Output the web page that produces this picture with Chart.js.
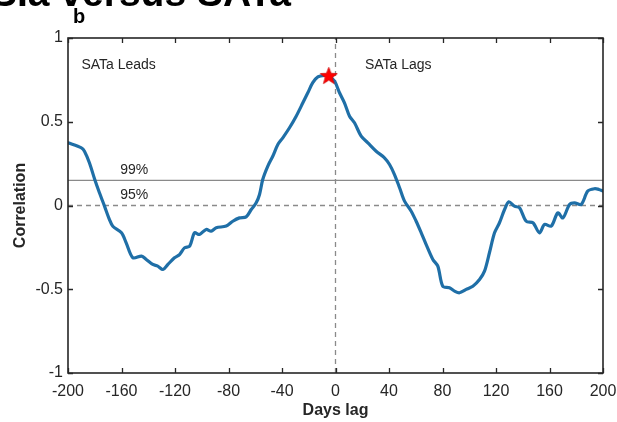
<!DOCTYPE html>
<html>
<head>
<meta charset="utf-8">
<script src="https://cdn.jsdelivr.net/npm/chart.js@4/dist/chart.umd.min.js"></script>
<style>
  html, body { margin: 0; padding: 0; background: #fff; }
  #wrap { width: 617px; height: 422px; position: relative; }
</style>
</head>
<body>
<div id="wrap"><canvas id="c" width="617" height="422"></canvas></div>
<script>
// ---- data ----
const lags = [-200, -190, -187.7, -184, -180, -176.5, -172.7, -169, -166.5, -160, -156.5, -151.5, -145, -141.5, -136.6, -132.9, -129,
  -125.3, -120.4, -116.6, -112.9, -109, -105.4, -101.7, -96.7, -93, -89.2, -81.7, -76.8, -71.8, -66.8, -63, -59.3, -56.8,
  -54.4, -50.6, -46.9, -43.1, -39.4, -34.4, -29.4, -24.4, -20.7, -17, -13.2, -8.2, -5, -0.7, 3, 6.7, 10.5, 14.2, 19.2, 24.2,
  30.4, 36.6, 40.4, 44.1, 47.9, 51.6, 56.6, 60.3, 64.1, 67.8, 72.8, 76.5, 80.2, 85.2, 89, 92.7, 97.7, 102.7, 107.7, 111.4,
  115.1, 118.9, 122.6, 126.4, 129.6, 133.8, 137.6, 142.6, 147.6, 152.5, 156.3, 161.3, 166.2, 170, 175, 178.7, 183.7, 188.6,
  193.6, 196.9, 200];
const corr = [0.374, 0.344, 0.324, 0.255, 0.155, 0.076, -0.004, -0.084, -0.124, -0.163, -0.223, -0.312, -0.302, -0.322, -0.352, -0.362, -0.382,
  -0.352, -0.312, -0.293, -0.253, -0.243, -0.163, -0.173, -0.143, -0.153, -0.133, -0.123, -0.094, -0.074, -0.068, -0.024, 0.016, 0.066,
  0.155, 0.235, 0.294, 0.364, 0.404, 0.464, 0.533, 0.613, 0.673, 0.733, 0.768, 0.776, 0.772, 0.742, 0.673, 0.613, 0.533, 0.494, 0.414, 0.374,
  0.324, 0.285, 0.245, 0.185, 0.106, 0.026, -0.034, -0.094, -0.163, -0.233, -0.322, -0.362, -0.482, -0.491, -0.511, -0.521, -0.501, -0.482, -0.442, -0.392,
  -0.282, -0.163, -0.103, -0.024, 0.022, -0.004, -0.014, -0.094, -0.103, -0.163, -0.113, -0.123, -0.044, -0.074, 0.006, 0.016, 0.006, 0.086,
  0.100, 0.096, 0.086];
const peakLag = [-5];
const peakCorr = [0.776];
const sig99 = 0.15;
const sig95 = 0;
const xTicks = [-200, -160, -120, -80, -40, 0, 40, 80, 120, 160, 200];
const yTicks = [-1, -0.5, 0, 0.5, 1];
const xRange = [-200, 200];
const yRange = [-1, 1];

// ---- filled star point style ----
function makeStar(size) {
  const cv = document.createElement('canvas');
  cv.width = size; cv.height = size;
  const g = cv.getContext('2d');
  const cx = size / 2, cy = size / 2 + 0.8, R = size / 2 - 0.5, r = R * 0.42;
  g.beginPath();
  for (let i = 0; i < 10; i++) {
    const ang = -Math.PI / 2 + i * Math.PI / 5;
    const rad = i % 2 === 0 ? R : r;
    const px = cx + rad * Math.cos(ang), py = cy + rad * Math.sin(ang);
    if (i === 0) g.moveTo(px, py); else g.lineTo(px, py);
  }
  g.closePath();
  g.fillStyle = '#ff0000';
  g.fill();
  g.strokeStyle = '#d00000';
  g.lineWidth = 0.8;
  g.stroke();
  return cv;
}
const starImg = makeStar(19);

const FONT = '"Liberation Sans", Arial, Helvetica, sans-serif';
const TXT = '#262626';

const decor = {
  id: 'decor',
  beforeDatasetsDraw(chart) {
    const ctx = chart.ctx;
    const xs = chart.scales.x, ys = chart.scales.y;
    ctx.save();
    ctx.fillStyle = TXT;
    ctx.font = '14px ' + FONT;
    ctx.textBaseline = 'middle';
    ctx.textAlign = 'left';
    ctx.fillText('SATa Leads', xs.getPixelForValue(-190), ys.getPixelForValue(0.84));
    ctx.fillText('SATa Lags', xs.getPixelForValue(22), ys.getPixelForValue(0.84));
    ctx.fillText('99%', xs.getPixelForValue(-161), ys.getPixelForValue(sig99 + 0.06));
    ctx.fillText('95%', xs.getPixelForValue(-161), ys.getPixelForValue(sig95 + 0.06));
    ctx.restore();
  },
  afterDraw(chart) {
    const ctx = chart.ctx;
    const a = chart.chartArea;
    const xs = chart.scales.x, ys = chart.scales.y;
    ctx.save();
    // frame
    ctx.strokeStyle = '#262626';
    ctx.lineWidth = 1.6;
    ctx.strokeRect(a.left, a.top, a.right - a.left, a.bottom - a.top);
    // inward ticks
    ctx.lineWidth = 1.3;
    const tl = 5;
    ctx.beginPath();
    xTicks.forEach(v => {
      const px = Math.round(xs.getPixelForValue(v)) + 0.5;
      ctx.moveTo(px, a.bottom); ctx.lineTo(px, a.bottom - tl);
      ctx.moveTo(px, a.top); ctx.lineTo(px, a.top + tl);
    });
    yTicks.forEach(v => {
      const py = Math.round(ys.getPixelForValue(v)) + 0.5;
      ctx.moveTo(a.left, py); ctx.lineTo(a.left + tl, py);
      ctx.moveTo(a.right, py); ctx.lineTo(a.right - tl, py);
    });
    ctx.stroke();
    // axis titles
    ctx.fillStyle = TXT;
    ctx.font = 'bold 16px ' + FONT;
    ctx.textAlign = 'center';
    ctx.textBaseline = 'middle';
    ctx.fillText('Days lag', (a.left + a.right) / 2, 411);
    ctx.save();
    ctx.translate(21, (a.top + a.bottom) / 2);
    ctx.rotate(-Math.PI / 2);
    ctx.fillText('Correlation', 0, 0);
    ctx.restore();
    // panel letter and cut-off heading
    ctx.fillStyle = '#000';
    ctx.textAlign = 'left';
    ctx.textBaseline = 'alphabetic';
    ctx.font = 'bold 20px ' + FONT;
    ctx.fillText('b', 73, 23);
    ctx.font = 'bold 39px ' + FONT;
    ctx.fillText('SIa versus SATa', -9, 6);
    ctx.restore();
  }
};

const pts = lags.map((x, i) => ({ x, y: corr[i] }));

new Chart(document.getElementById('c'), {
  type: 'line',
  data: {
    datasets: [
      {
        label: 'peak',
        data: peakLag.map((x, i) => ({ x, y: peakCorr[i] })),
        showLine: false,
        pointStyle: starImg,
        pointRadius: 9,
        borderColor: 'red',
        backgroundColor: 'red'
      },
      {
        label: 'correlation',
        data: pts,
        borderColor: '#1f6fa7',
        borderWidth: 3.2,
        pointRadius: 0,
        tension: 0.3,
        fill: false,
        borderJoinStyle: 'round',
        borderCapStyle: 'round'
      },
      {
        label: '99%',
        data: [{ x: xRange[0], y: sig99 }, { x: xRange[1], y: sig99 }],
        borderColor: '#8a8a8a',
        borderWidth: 1.3,
        pointRadius: 0
      },
      {
        label: '95%',
        data: [{ x: xRange[0], y: sig95 }, { x: xRange[1], y: sig95 }],
        borderColor: '#8a8a8a',
        borderWidth: 1.3,
        borderDash: [5, 4],
        pointRadius: 0
      },
      {
        label: 'zero lag',
        data: [{ x: 0, y: yRange[0] }, { x: 0, y: yRange[1] }],
        borderColor: '#8a8a8a',
        borderWidth: 1.3,
        borderDash: [5, 4],
        pointRadius: 0
      }
    ]
  },
  options: {
    responsive: false,
    animation: false,
    events: [],
    layout: { autoPadding: false, padding: { top: 38, right: 14, left: 0, bottom: 0 } },
    plugins: { legend: { display: false }, tooltip: { enabled: false }, title: { display: false } },
    scales: {
      x: {
        type: 'linear',
        min: xRange[0], max: xRange[1],
        afterBuildTicks: s => { s.ticks = xTicks.map(v => ({ value: v })); },
        afterFit: s => { s.height = 49; s.paddingLeft = 0; s.paddingRight = 0; },
        grid: { display: false, drawTicks: false, tickLength: 0 },
        border: { display: false },
        ticks: { color: TXT, font: { family: FONT, size: 16 }, padding: 9, maxRotation: 0, autoSkip: false,
                 callback: v => String(v) }
      },
      y: {
        type: 'linear',
        min: yRange[0], max: yRange[1],
        afterBuildTicks: s => { s.ticks = yTicks.map(v => ({ value: v })); },
        afterFit: s => { s.width = 68; s.paddingTop = 0; s.paddingBottom = 0; },
        grid: { display: false, drawTicks: false, tickLength: 0 },
        border: { display: false },
        ticks: { color: TXT, font: { family: FONT, size: 16 }, padding: 5, autoSkip: false,
                 callback: v => String(v) }
      }
    }
  },
  plugins: [decor]
});
</script>
</body>
</html>
